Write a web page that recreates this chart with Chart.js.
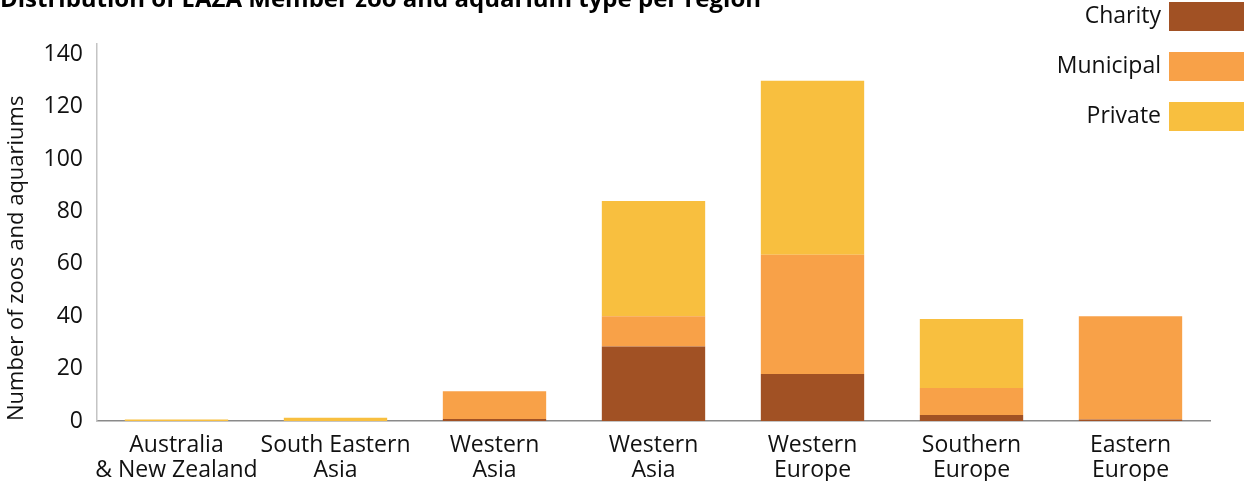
<!DOCTYPE html>
<html>
<head>
<meta charset="utf-8">
<script src="https://cdn.jsdelivr.net/npm/chart.js@4"></script>
<style>
  html, body { margin: 0; padding: 0; background: #fff; }
  #wrap { width: 1244px; height: 481px; position: relative; }
</style>
</head>
<body>
<div id="wrap"><canvas id="chartZoos"></canvas></div>
<script>
// regions (two-line labels)
const regiones = [
  ['Australia', '& New Zealand'],
  ['South Eastern', 'Asia'],
  ['Western', 'Asia'],
  ['Western', 'Asia'],
  ['Western', 'Europe'],
  ['Southern', 'Europe'],
  ['Eastern', 'Europe']
];

// values
const charity   = [0,   0,  0.8, 28.5, 18,  2.3, 0.6];
const municipal = [0,   0, 10.6, 11.5, 45.5, 10.3, 39.4];
const privado   = [0.6, 1.2, 0,  44,   66.5, 26.4, 0];

const yTicks = [0, 20, 40, 60, 80, 100, 120, 140];

const colores = {
  charity: 'rgb(161, 81, 36)',
  municipal: 'rgb(248, 161, 72)',
  privado: 'rgb(248, 191, 63)'
};

const fuente = '"Open Sans", "DejaVu Sans", sans-serif';

// title at the top (cut off like the original) + legend on the right
const extras = {
  id: 'extras',
  afterDraw(chart) {
    const ctx = chart.ctx;
    ctx.save();
    ctx.fillStyle = '#000';
    ctx.font = 'bold 24px ' + fuente;
    ctx.textAlign = 'left';
    ctx.textBaseline = 'alphabetic';
    ctx.fillText('Distribution of EAZA Member zoo and aquarium type per region', 0, 7);

    // legend: Charity, Municipal, Private from top
    ctx.font = '23px ' + fuente;
    ctx.textAlign = 'right';
    ctx.textBaseline = 'middle';
    chart.data.datasets.forEach((ds, i) => {
      const y = 2 + i * 50;
      ctx.fillStyle = ds.backgroundColor;
      ctx.fillRect(1169, y, 75, 29);
      ctx.fillStyle = '#111';
      ctx.fillText(ds.label, 1161, y + 14);
    });
    ctx.restore();
  }
};

const ctxZoos = document.getElementById('chartZoos').getContext('2d');

new Chart(ctxZoos, {
  type: 'bar',
  data: {
    labels: regiones,
    datasets: [
      { label: 'Charity',   data: charity,   backgroundColor: colores.charity },
      { label: 'Municipal', data: municipal, backgroundColor: colores.municipal },
      { label: 'Private',   data: privado,   backgroundColor: colores.privado }
    ]
  },
  options: {
    responsive: true,
    maintainAspectRatio: false,
    animation: false,
    layout: {
      padding: { top: 44, right: 34, left: 0, bottom: 0 }
    },
    plugins: {
      legend: { display: false },
      tooltip: { enabled: false }
    },
    datasets: {
      bar: { categoryPercentage: 1, barPercentage: 0.65 }
    },
    scales: {
      x: {
        stacked: true,
        grid: { display: false, drawTicks: false },
        border: { display: true, color: '#8a8a8a', width: 1.5 },
        ticks: {
          color: '#111',
          font: { family: fuente, size: 23, lineHeight: 1.1 },
          padding: 12,
          maxRotation: 0,
          autoSkip: false
        },
        afterFit(scale) { scale.height = 60; }
      },
      y: {
        stacked: true,
        min: 0,
        max: 144,
        grid: { display: false, drawTicks: false },
        border: { display: true, color: '#c4c4c4', width: 1.5 },
        afterBuildTicks(scale) {
          scale.ticks = yTicks.map(v => ({ value: v }));
        },
        ticks: {
          color: '#111',
          font: { family: fuente, size: 23 },
          padding: 14
        },
        title: {
          display: true,
          text: 'Number of zoos and aquariums',
          align: 'start',
          color: '#111',
          font: { family: fuente, size: 22 },
          padding: { top: 4, bottom: 0 }
        },
        afterFit(scale) { scale.width = 97; }
      }
    }
  },
  plugins: [extras]
});
</script>
</body>
</html>
